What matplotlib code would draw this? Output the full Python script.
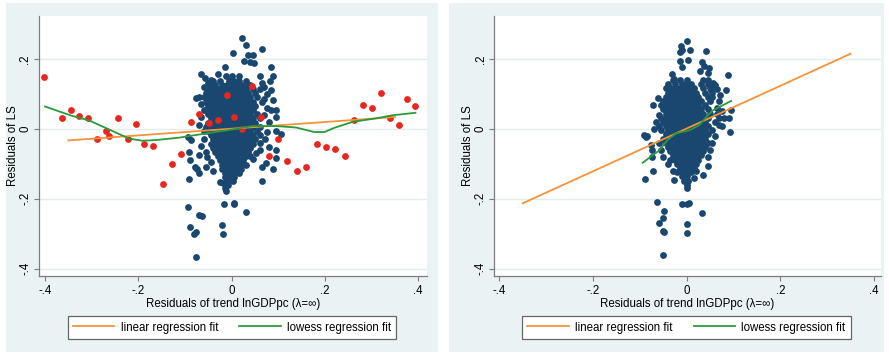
import matplotlib
matplotlib.use("Agg")
import matplotlib.pyplot as plt
from matplotlib.patches import Rectangle
from matplotlib.lines import Line2D

plt.rcParams['font.family'] = ['Liberation Sans', 'DejaVu Sans']

# ---- left panel: HP residuals with lambda = infinity ----
# dense core of the country cloud, one row per y level: (y, [x, ...])
left_core_rows = [
    (0.150, [-0.012, 0.000, 0.015]),
    (0.138, [-0.040, -0.025, -0.005, 0.005, 0.015, 0.030]),
    (0.126, [-0.045, -0.035, -0.020, -0.010, 0.000, 0.010, 0.020, 0.030, 0.040]),
    (0.114, [-0.050, -0.040, -0.030, -0.020, -0.010, 0.000, 0.010, 0.020, 0.030, 0.045, 0.060]),
    (0.102, [-0.055, -0.045, -0.035, -0.025, -0.015, -0.005, 0.005, 0.015, 0.025, 0.035, 0.050]),
    (0.090, [-0.060, -0.050, -0.040, -0.030, -0.020, -0.010, 0.000, 0.010, 0.020, 0.030, 0.040, 0.055]),
    (0.078, [-0.055, -0.045, -0.035, -0.025, -0.015, -0.005, 0.005, 0.015, 0.025, 0.035, 0.045, 0.065]),
    (0.066, [-0.050, -0.040, -0.030, -0.020, -0.010, 0.000, 0.010, 0.020, 0.030, 0.040, 0.050]),
    (0.054, [-0.055, -0.045, -0.035, -0.025, -0.015, -0.005, 0.005, 0.015, 0.025, 0.035, 0.045]),
    (0.042, [-0.050, -0.040, -0.030, -0.020, -0.010, 0.000, 0.010, 0.020, 0.030, 0.040, 0.055]),
    (0.030, [-0.045, -0.035, -0.025, -0.015, -0.005, 0.005, 0.015, 0.025, 0.035, 0.045, 0.060]),
    (0.018, [-0.050, -0.040, -0.030, -0.020, -0.010, 0.000, 0.010, 0.020, 0.030, 0.040, 0.050]),
    (0.006, [-0.055, -0.045, -0.035, -0.025, -0.015, -0.005, 0.005, 0.015, 0.025, 0.035, 0.045, 0.060]),
    (-0.006, [-0.050, -0.040, -0.030, -0.020, -0.010, 0.000, 0.010, 0.020, 0.030, 0.040, 0.055]),
    (-0.018, [-0.045, -0.035, -0.025, -0.015, -0.005, 0.005, 0.015, 0.025, 0.035, 0.045, 0.060]),
    (-0.030, [-0.040, -0.030, -0.020, -0.010, 0.000, 0.010, 0.020, 0.030, 0.040, 0.050]),
    (-0.042, [-0.045, -0.035, -0.025, -0.015, -0.005, 0.005, 0.015, 0.025, 0.035, 0.045]),
    (-0.054, [-0.040, -0.030, -0.020, -0.010, 0.000, 0.010, 0.020, 0.030, 0.040]),
    (-0.066, [-0.035, -0.025, -0.015, -0.005, 0.005, 0.015, 0.025, 0.035]),
    (-0.078, [-0.030, -0.020, -0.010, 0.000, 0.010, 0.020, 0.030, 0.040]),
    (-0.090, [-0.025, -0.015, -0.005, 0.005, 0.015, 0.025]),
    (-0.102, [-0.020, -0.010, 0.000, 0.010, 0.020, 0.030]),
    (-0.114, [-0.020, -0.010, 0.000, 0.010, 0.020]),
    (-0.126, [-0.015, -0.005, 0.005, 0.015]),
    (-0.138, [-0.015, -0.005, 0.005]),
    (-0.150, [-0.010, 0.002]),
    (-0.162, [-0.008]),
]
# scattered countries around the core
left_blue_extra = [
    (0.022, 0.260), (0.031, 0.240), (0.002, 0.217), (0.064, 0.228),
    (0.036, 0.210), (0.045, 0.210), (0.039, 0.190), (0.047, 0.188), (0.026, 0.193),
    (-0.066, 0.156), (-0.058, 0.147), (-0.030, 0.158), (-0.015, 0.177),
    (0.084, 0.177), (0.089, 0.150), (0.082, 0.136),
    (-0.077, 0.087), (-0.071, 0.090),
    (0.084, 0.110), (0.088, 0.084), (0.084, 0.055), (0.095, 0.053), (0.094, 0.034),
    (0.106, -0.015), (0.095, -0.006),
    (0.071, -0.028), (0.052, -0.070), (0.079, -0.051), (0.095, -0.061), (0.094, -0.084),
    (0.089, -0.116), (0.074, -0.097), (0.066, -0.109), (0.066, -0.150),
    (-0.094, -0.023), (-0.087, -0.032), (-0.092, -0.066), (-0.089, -0.090),
    (-0.079, -0.109), (-0.071, -0.125), (-0.075, -0.115), (-0.091, -0.142),
    (-0.055, -0.109), (-0.052, -0.080),
    (-0.025, -0.151), (-0.019, -0.156), (-0.012, -0.177), (-0.014, -0.169),
    (-0.094, -0.223), (-0.089, -0.282), (-0.081, -0.302), (-0.069, -0.247),
    (-0.063, -0.250), (-0.076, -0.294), (-0.076, -0.368),
    (-0.021, -0.275), (-0.019, -0.302),
    (-0.016, -0.215), (0.004, -0.211), (0.006, -0.216), (0.031, -0.239),
    (-0.060, 0.120), (-0.050, 0.130), (-0.045, 0.140), (0.060, 0.150), (0.065, 0.130),
    (0.070, 0.120), (0.075, 0.100), (0.070, 0.085), (-0.065, 0.070), (-0.060, 0.055),
    (-0.065, 0.035), (-0.070, 0.010), (-0.060, -0.005), (0.075, 0.060), (0.070, 0.040),
    (0.080, 0.020), (0.075, -0.010), (0.060, -0.040), (0.060, -0.060), (0.045, -0.085),
    (-0.060, -0.030), (-0.065, -0.050), (-0.055, -0.065), (-0.070, -0.075),
    (-0.045, -0.095), (-0.040, -0.120),
]
# highlighted countries (red)
left_red_x = [-0.402, -0.364, -0.345, -0.327, -0.308, -0.288, -0.269, -0.262, -0.244,
              -0.223, -0.204, -0.188, -0.168, -0.148, -0.128, -0.109, -0.087, -0.069,
              -0.048, -0.029, -0.009, 0.004, 0.023, 0.043, 0.062, 0.079, 0.099, 0.119,
              0.139, 0.159, 0.183, 0.203, 0.222, 0.242, 0.262, 0.282, 0.300, 0.320,
              0.339, 0.358, 0.375, 0.394]
left_red_y = [0.149, 0.030, 0.055, 0.037, 0.030, -0.028, -0.005, -0.020, 0.030,
              -0.030, 0.013, -0.042, -0.048, -0.159, -0.100, -0.072, 0.019, 0.043,
              0.016, 0.025, 0.098, 0.034, -0.001, 0.123, 0.033, -0.077, -0.030, -0.091,
              -0.121, -0.108, -0.043, -0.052, -0.057, -0.079, 0.025, 0.068, 0.061, 0.102,
              0.031, 0.011, 0.086, 0.065]
left_lin_x = [-0.350, 0.350]
left_lin_y = [-0.033, 0.034]
left_low_x = [-0.400, -0.344, -0.305, -0.259, -0.219, -0.191, -0.162, -0.112, -0.055,
              0.000, 0.045, 0.095, 0.138, 0.177, 0.199, 0.220, 0.259, 0.309, 0.345, 0.394]
left_low_y = [0.064, 0.038, 0.024, -0.004, -0.028, -0.034, -0.032, -0.025, -0.013,
              -0.002, 0.008, 0.008, 0.004, -0.009, -0.009, 0.003, 0.020, 0.030, 0.039, 0.046]

# ---- right panel ----
right_core_rows = [
    (0.140, [-0.030, -0.015, 0.000, 0.035, 0.045]),
    (0.128, [-0.040, -0.025, -0.010, 0.000, 0.010, 0.030, 0.045]),
    (0.116, [-0.045, -0.035, -0.025, -0.015, -0.005, 0.005, 0.015, 0.035, 0.050]),
    (0.104, [-0.040, -0.030, -0.020, -0.010, 0.000, 0.010, 0.020, 0.040, 0.055]),
    (0.092, [-0.045, -0.035, -0.025, -0.015, -0.005, 0.005, 0.015, 0.025, 0.045]),
    (0.080, [-0.050, -0.040, -0.030, -0.020, -0.010, 0.000, 0.010, 0.020, 0.030, 0.050]),
    (0.068, [-0.055, -0.045, -0.035, -0.025, -0.015, -0.005, 0.005, 0.015, 0.025, 0.040]),
    (0.056, [-0.050, -0.040, -0.030, -0.020, -0.010, 0.000, 0.010, 0.020, 0.030, 0.045]),
    (0.044, [-0.045, -0.035, -0.025, -0.015, -0.005, 0.005, 0.015, 0.025, 0.035, 0.050, 0.065]),
    (0.032, [-0.055, -0.045, -0.035, -0.025, -0.015, -0.005, 0.005, 0.015, 0.025, 0.035, 0.045, 0.070]),
    (0.020, [-0.050, -0.040, -0.030, -0.020, -0.010, 0.000, 0.010, 0.020, 0.030, 0.040, 0.060]),
    (0.008, [-0.060, -0.045, -0.035, -0.025, -0.015, -0.005, 0.005, 0.015, 0.025, 0.035, 0.045, 0.075]),
    (-0.004, [-0.055, -0.040, -0.030, -0.020, -0.010, 0.000, 0.010, 0.020, 0.030, 0.040, 0.055]),
    (-0.016, [-0.045, -0.035, -0.025, -0.015, -0.005, 0.005, 0.015, 0.025, 0.035, 0.045]),
    (-0.028, [-0.050, -0.040, -0.030, -0.020, -0.010, 0.000, 0.010, 0.020, 0.030, 0.040]),
    (-0.040, [-0.045, -0.035, -0.025, -0.015, -0.005, 0.005, 0.015, 0.025, 0.035, 0.045]),
    (-0.052, [-0.040, -0.030, -0.020, -0.010, 0.000, 0.010, 0.020, 0.030, 0.040]),
    (-0.064, [-0.035, -0.025, -0.015, -0.005, 0.005, 0.015, 0.025, 0.035]),
    (-0.076, [-0.030, -0.020, -0.010, 0.000, 0.010, 0.020, 0.030]),
    (-0.088, [-0.035, -0.025, -0.015, -0.005, 0.005, 0.015, 0.025]),
    (-0.100, [-0.020, -0.010, 0.000, 0.010, 0.020]),
    (-0.112, [-0.015, -0.005, 0.005, 0.015]),
    (-0.124, [-0.020, -0.010, 0.000, 0.010]),
    (-0.136, [-0.010, 0.000]),
    (-0.148, [-0.005, 0.003]),
    (-0.160, [0.000]),
]
right_blue_extra = [
    (0.000, 0.251), (-0.012, 0.237), (-0.009, 0.225), (-0.014, 0.220), (0.007, 0.227),
    (0.041, 0.223), (0.002, 0.196), (-0.014, 0.193), (-0.011, 0.177),
    (0.032, 0.190), (0.036, 0.181), (0.047, 0.173), (0.046, 0.160), (0.029, 0.165),
    (0.088, 0.154), (-0.031, 0.156), (-0.026, 0.143),
    (0.056, 0.131), (0.052, 0.110), (0.054, 0.091), (0.085, 0.110), (0.072, 0.098),
    (-0.071, 0.067), (-0.062, 0.087),
    (0.094, 0.053), (0.091, 0.032), (0.093, -0.009),
    (-0.091, -0.018), (-0.087, -0.023), (-0.084, -0.020),
    (-0.076, -0.047), (-0.073, -0.061), (-0.073, -0.080), (-0.071, -0.120), (-0.089, -0.144),
    (0.045, -0.107), (0.034, -0.132), (-0.026, -0.147), (0.000, -0.170),
    (-0.064, -0.209), (-0.048, -0.235), (-0.051, -0.254), (-0.059, -0.269),
    (-0.051, -0.292), (-0.049, -0.294),
    (-0.009, -0.215), (0.000, -0.215), (0.004, -0.213), (0.000, -0.272), (0.000, -0.297),
    (0.033, -0.240), (-0.050, -0.360),
    (0.060, 0.125), (0.065, 0.115), (0.070, 0.080), (0.065, 0.060), (0.075, 0.050),
    (0.080, 0.030), (0.070, 0.010), (0.060, -0.020), (0.055, -0.040), (0.050, -0.060),
    (0.045, -0.080), (-0.060, 0.040), (-0.065, 0.020), (-0.070, 0.000), (-0.060, -0.040),
    (-0.055, -0.060), (-0.050, -0.080), (-0.040, -0.100), (-0.030, -0.120),
    (0.020, -0.120), (0.015, -0.140),
]
right_lin_x = [-0.350, 0.350]
right_lin_y = [-0.213, 0.215]
right_low_x = [-0.094, -0.058, -0.041, -0.023, 0.006, 0.027, 0.042, 0.056, 0.095]
right_low_y = [-0.097, -0.061, -0.032, -0.013, -0.004, 0.011, 0.034, 0.053, 0.080]

xticks = [-0.4, -0.2, 0.0, 0.2, 0.4]
xticklabels = ['-.4', '-.2', '0', '.2', '.4']
yticks = [-0.4, -0.2, 0.0, 0.2]
yticklabels = ['-.4', '-.2', '0', '.2']

NAVY = '#1a476f'
RED = '#e8261f'
ORANGE = '#f5923a'
GREEN = '#2b9a3b'
BG = '#eaf2f3'
FS = 8.3


def expand(rows, extra):
    xs, ys = [], []
    for y, row in rows:
        for x in row:
            xs.append(x)
            ys.append(y)
    for x, y in extra:
        xs.append(x)
        ys.append(y)
    return xs, ys


W, H = 889, 354
fig = plt.figure(figsize=(W / 100, H / 100), dpi=100)
fig.patch.set_facecolor('white')


def px_rect(x0, y0, x1, y1):
    # pixel box (top-left origin) -> figure fraction rect
    return [x0 / W, 1 - y1 / H, (x1 - x0) / W, (y1 - y0) / H]


def setup(ax, xlim):
    ax.set_xlim(*xlim)
    ax.set_ylim(-0.421, 0.323)
    ax.set_facecolor('white')
    for s in ('top', 'right'):
        ax.spines[s].set_visible(False)
    for s in ('left', 'bottom'):
        ax.spines[s].set_color('#7d7d7d')
        ax.spines[s].set_linewidth(0.9)
    ax.set_xticks(xticks)
    ax.set_xticklabels(xticklabels)
    ax.set_yticks(yticks)
    ax.set_yticklabels(yticklabels, rotation=90, va='center')
    ax.tick_params(length=3.5, width=0.8, color='#7d7d7d', labelsize=FS, pad=2)
    ax.tick_params(axis='x', pad=3)
    ax.set_axisbelow(True)
    ax.yaxis.grid(True, color='#e3ecee', lw=1.0)
    ax.set_xlabel('Residuals of trend lnGDPpc (λ=∞)', fontsize=FS, labelpad=0.5)
    ax.set_ylabel('Residuals of LS', fontsize=FS, labelpad=0.5)


def legend(ax, cx):
    handles = [Line2D([], [], color=ORANGE, lw=1.3), Line2D([], [], color=GREEN, lw=1.3)]
    leg = ax.legend(handles, ['linear regression fit', 'lowess regression fit'],
                    ncol=2, loc='center', bbox_to_anchor=(cx / W, 1 - 327.5 / H),
                    bbox_transform=fig.transFigure, fontsize=FS, frameon=True,
                    fancybox=False, handlelength=3.6, handletextpad=0.55,
                    columnspacing=1.8, borderpad=0.45)
    fr = leg.get_frame()
    fr.set_edgecolor('#666666')
    fr.set_linewidth(0.9)
    fr.set_facecolor('white')
    fr.set_alpha(1)


# panel backgrounds, kept behind the axes
for x0, x1 in ((6, 438), (449, 884)):
    fig.add_artist(Rectangle((x0 / W, 1 - 352 / H), (x1 - x0) / W, 349 / H,
                             transform=fig.transFigure, facecolor=BG,
                             edgecolor='none', zorder=-10))

# left panel
ax1 = fig.add_axes(px_rect(39, 16, 427, 276))
setup(ax1, (-0.4129, 0.4187))
bx, by = expand(left_core_rows, left_blue_extra)
ax1.scatter(bx, by, s=24, color=NAVY, linewidths=0, zorder=2)
ax1.scatter(left_red_x, left_red_y, s=24, color=RED, linewidths=0, zorder=3)
ax1.plot(left_lin_x, left_lin_y, color=ORANGE, lw=1.3, zorder=4)
ax1.plot(left_low_x, left_low_y, color=GREEN, lw=1.3, zorder=5)
legend(ax1, 232)

# right panel
ax2 = fig.add_axes(px_rect(494.3, 16, 880.7, 276))
setup(ax2, (-0.4107, 0.4143))
bx, by = expand(right_core_rows, right_blue_extra)
ax2.scatter(bx, by, s=24, color=NAVY, linewidths=0, zorder=2)
ax2.plot(right_lin_x, right_lin_y, color=ORANGE, lw=1.3, zorder=4)
ax2.plot(right_low_x, right_low_y, color=GREEN, lw=1.3, zorder=5)
legend(ax2, 686.5)

fig.savefig('out.png', dpi=100)
